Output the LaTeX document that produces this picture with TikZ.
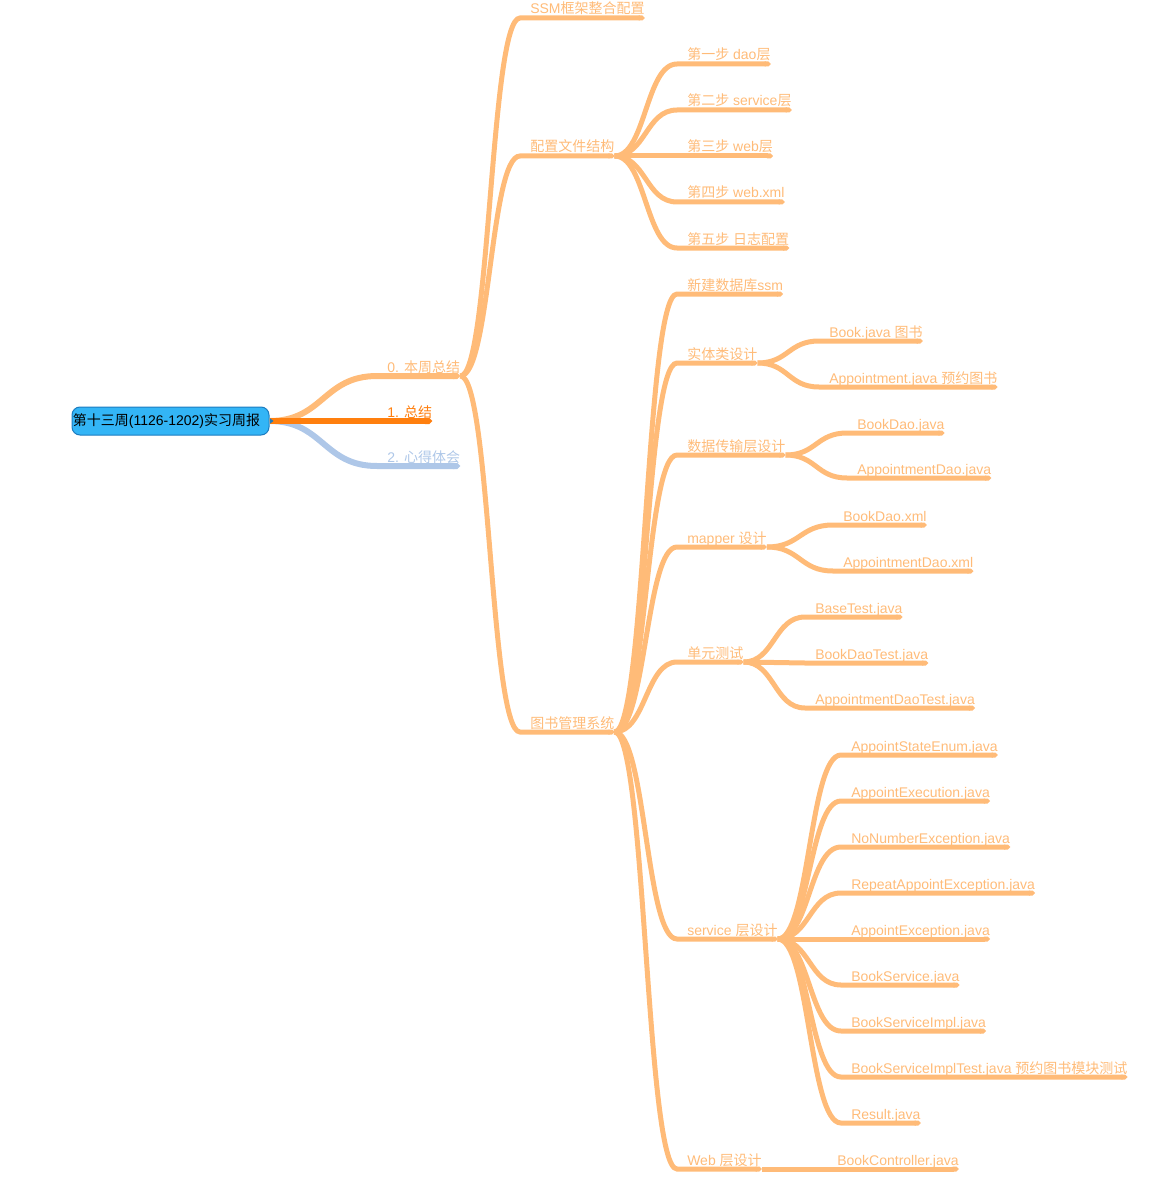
\documentclass[tikz,border=0pt]{standalone}
\usepackage{fontspec}
\setmainfont{Liberation Sans}
\newfontfamily\cjk{Noto Sans CJK SC}
\usetikzlibrary{arrows.meta,calc}
\definecolor{colLO}{HTML}{FFBB78}
\definecolor{colDO}{HTML}{FF7F0E}
\definecolor{colLB}{HTML}{AEC7E8}
\definecolor{rootfill}{HTML}{33B5F6}
\definecolor{rootline}{HTML}{1C7CC0}
\newcommand\zh[1]{{\cjk #1}}
% node: name, text x, underline y, colour, text
\newcommand\mn[5]{%
  \node[lbl,text=#4] (#1) at (#2,#3-4) {#5};
  \coordinate (#1-s) at (#2-10,#3);
  \coordinate (#1-e) at (#1.base east |- #1-s);
}
% link: parent, child, colour/style
\newcommand\lnk[3]{%
  \coordinate (lnkm) at ($(#1-e)!0.5!(#2-s)$);
  \draw[edgeline,#3] (#1-e) .. controls (lnkm |- #1-e) and (lnkm |- #2-s) .. (#2-s) -- (#2-e);
}
\begin{document}
\begin{tikzpicture}[x=0.75pt,y=-0.75pt,
  lbl/.style={inner sep=0pt,font=\fontsize{10.5pt}{12pt}\selectfont,anchor=base west},
  edgeline/.style={line width=3.75pt,line cap=butt,-{Triangle Cap}},
  topline/.style={line width=4.5pt},
  rootbox/.style={draw=rootline,fill=rootfill,line width=0.75pt,rounded corners=6pt,
    minimum width=147.75pt,minimum height=21pt,inner sep=0pt,
    font=\fontsize{10.5pt}{12pt}\selectfont,text=black}]
\useasboundingbox (0,0) rectangle (1162,1198);

% root
\node[rootbox] (root) at (170.5,421) {\kern-6pt\zh{第十三周}(1126-1202)\zh{实习周报}};
\coordinate (root-e) at (root.east);

% level 1
\mn{l0}{387}{376}{colLO}{0. \zh{本周总结}}
\mn{l1}{387}{421}{colDO}{1. \zh{总结}}
\mn{l2}{387}{466}{colLB}{2. \zh{心得体会}}

% level 2
\mn{a}{530}{18}{colLO}{SSM\zh{框架整合配置}}
\mn{b}{530}{156}{colLO}{\zh{配置文件结构}}
\mn{c}{530}{732}{colLO}{\zh{图书管理系统}}

% level 3 under b
\mn{b1}{687}{64}{colLO}{\zh{第一步} dao\zh{层}}
\mn{b2}{687}{110}{colLO}{\zh{第二步} service\zh{层}}
\mn{b3}{687}{156}{colLO}{\zh{第三步} web\zh{层}}
\mn{b4}{687}{202}{colLO}{\zh{第四步} web.xml}
\mn{b5}{687}{248}{colLO}{\zh{第五步} \zh{日志配置}}

% level 3 under c
\mn{c1}{687}{294}{colLO}{\zh{新建数据库}ssm}
\mn{c2}{687}{363}{colLO}{\zh{实体类设计}}
\mn{c3}{687}{455}{colLO}{\zh{数据传输层设计}}
\mn{c4}{687}{547}{colLO}{mapper \zh{设计}}
\mn{c5}{687}{662}{colLO}{\zh{单元测试}}
\mn{c6}{687}{939}{colLO}{service \zh{层设计}}
\mn{c7}{687}{1169}{colLO}{Web \zh{层设计}}

% level 4
\mn{c21}{829}{341}{colLO}{Book.java \zh{图书}}
\mn{c22}{829}{387}{colLO}{Appointment.java \zh{预约图书}}
\mn{c31}{857}{433}{colLO}{BookDao.java}
\mn{c32}{857}{478}{colLO}{AppointmentDao.java}
\mn{c41}{843}{525}{colLO}{BookDao.xml}
\mn{c42}{843}{571}{colLO}{AppointmentDao.xml}
\mn{c51}{815}{617}{colLO}{BaseTest.java}
\mn{c52}{815}{663}{colLO}{BookDaoTest.java}
\mn{c53}{815}{708}{colLO}{AppointmentDaoTest.java}
\mn{c61}{851}{755}{colLO}{AppointStateEnum.java}
\mn{c62}{851}{801}{colLO}{AppointExecution.java}
\mn{c63}{851}{847}{colLO}{NoNumberException.java}
\mn{c64}{851}{893}{colLO}{RepeatAppointException.java}
\mn{c65}{851}{939}{colLO}{AppointException.java}
\mn{c66}{851}{985}{colLO}{BookService.java}
\mn{c67}{851}{1031}{colLO}{BookServiceImpl.java}
\mn{c68}{851}{1077}{colLO}{BookServiceImplTest.java \zh{预约图书模块测试}}
\mn{c69}{851}{1123}{colLO}{Result.java}
\mn{c71}{837}{1169}{colLO}{BookController.java}

% links
\lnk{root}{l2}{colLB,topline}
\lnk{root}{l0}{colLO,topline}
\lnk{root}{l1}{colDO,topline}
\foreach \k in {a,b,c} {\lnk{l0}{\k}{colLO}}
\foreach \k in {1,...,5} {\lnk{b}{b\k}{colLO}}
\foreach \k in {1,...,7} {\lnk{c}{c\k}{colLO}}
\foreach \k in {1,2} {\lnk{c2}{c2\k}{colLO}}
\foreach \k in {1,2} {\lnk{c3}{c3\k}{colLO}}
\foreach \k in {1,2} {\lnk{c4}{c4\k}{colLO}}
\foreach \k in {1,2,3} {\lnk{c5}{c5\k}{colLO}}
\foreach \k in {1,...,9} {\lnk{c6}{c6\k}{colLO}}
\lnk{c7}{c71}{colLO}

% small pointer on the root
\fill[rootline] (root.east) ++(0,-3) -- ++(4,3) -- ++(-4,3) -- cycle;
\end{tikzpicture}
\end{document}
